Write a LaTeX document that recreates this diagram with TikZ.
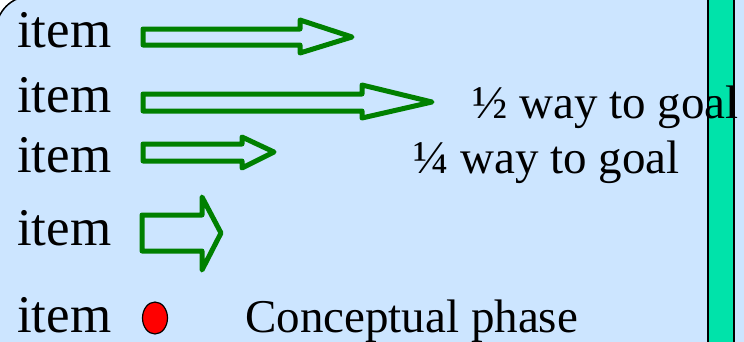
\documentclass[tikz,border=0pt]{standalone}
\usepackage{fontspec}
\setmainfont{Liberation Serif}
\definecolor{panelblue}{HTML}{CCE5FF}
\definecolor{barteal}{HTML}{00E3AA}
\definecolor{arrowgreen}{HTML}{008000}
\tikzset{
  itemtext/.style={anchor=base west, inner sep=0pt, font=\fontsize{53}{60}\selectfont},
  goaltext/.style={anchor=base west, inner sep=0pt, font=\fontsize{47}{54}\selectfont},
  goalarrow/.style={draw=arrowgreen, line width=5pt, line join=round}
}
\begin{document}
\begin{tikzpicture}[x=1pt, y=-1pt]
  \useasboundingbox (0,0) rectangle (744,341);
  \fill[panelblue] (0,0) rectangle (744,341);
  \fill[white] (0,0) rectangle (40,40);
  \draw[fill=panelblue, line width=1.5pt, rounded corners=35pt] (-4,-4) rectangle (800,420);

  \draw[fill=barteal, line width=2pt] (708,-5) rectangle (734,346);

  \node[itemtext] (item1) at (17,47) {item};
  \node[itemtext] (item2) at (17,112) {item};
  \node[itemtext] (item3) at (17,172) {item};
  \node[itemtext] (item4) at (17,245) {item};
  \node[itemtext] (item5) at (17,332) {item};

  \draw[goalarrow] (143,29) -- (300,29) -- (300,20) -- (352,37) -- (300,53) -- (300,45) -- (143,45) -- cycle;
  \draw[goalarrow] (143,94) -- (362,94) -- (362,85) -- (432,102) -- (362,118) -- (362,111) -- (143,111) -- cycle;
  \draw[goalarrow] (143,144) -- (242,144) -- (242,137) -- (274,152) -- (242,168) -- (242,161) -- (143,161) -- cycle;
  \draw[goalarrow] (142,215) -- (202,215) -- (202,197) -- (221,233) -- (202,270) -- (202,251) -- (142,251) -- cycle;

  \draw[fill=red, line width=1.2pt] (155,318) ellipse (12.5 and 16);

  \node[goaltext] (half) at (472,118) {½ way to goal};
  \node[goaltext] (quarter) at (413,173) {¼ way to goal};
  \node[goaltext] (phase) at (245,332) {Conceptual phase};
\end{tikzpicture}
\end{document}
